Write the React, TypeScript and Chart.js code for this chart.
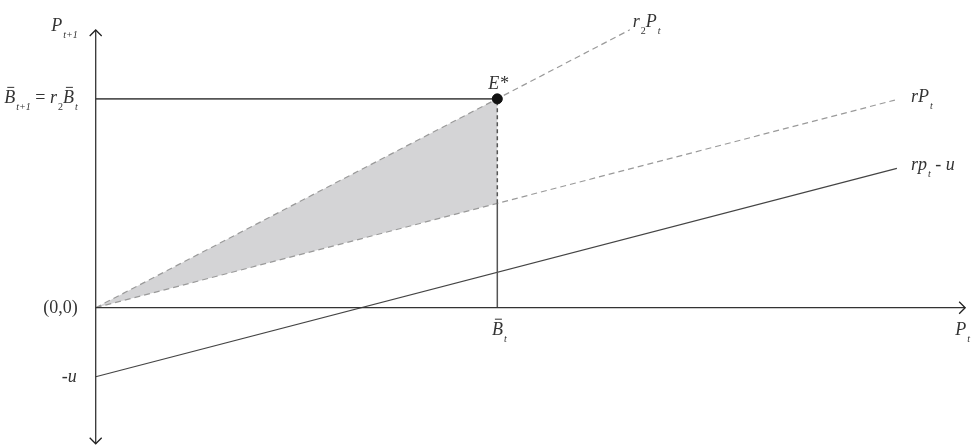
import { useEffect, useRef } from "react";
import { Chart, registerables } from "chart.js";

Chart.register(...registerables);

// ---- data (units: B̄t = 10) ----
const xAxisLine = [
  { x: 0, y: 0 },
  { x: 21.65, y: 0 },
];
const yAxisLine = [
  { x: 0, y: -3.39 },
  { x: 0, y: 6.915 },
];
const r2PtLine = [
  { x: 0, y: 0 },
  { x: 13.3, y: 6.92 },
];
const rPtLine = [
  { x: 0, y: 0 },
  { x: 19.9, y: 5.17 },
];
const rptMinusULine = [
  { x: 0, y: -1.72 },
  { x: 19.95, y: 3.47 },
];
const equilibriumLevel = [
  { x: 0, y: 5.2 },
  { x: 10, y: 5.2 },
];
const bBarSolid = [
  { x: 10, y: 0 },
  { x: 10, y: 2.6 },
];
const bBarDashed = [
  { x: 10, y: 2.6 },
  { x: 10, y: 5.2 },
];
const shadedRegion = [
  { x: 0, y: 0 },
  { x: 10, y: 5.2 },
  { x: 10, y: 2.6 },
  { x: 0, y: 0 },
];
const eStarPoint = [{ x: 10, y: 5.2 }];

// view window
const xRange = [-2.383, 21.82];
const yRange = [-3.469, 7.662];

type Part = { t: string; sub?: boolean; bar?: boolean; upright?: boolean };
type Label = { parts: Part[]; x: number; y: number; dx: number; dy: number; align: "left" | "right" | "center" };

const labels: Label[] = [
  { parts: [{ t: "P" }, { t: "t+1", sub: true }], x: 0, y: 6.915, dx: -18, dy: 1, align: "right" },
  {
    parts: [
      { t: "B", bar: true },
      { t: "t+1", sub: true },
      { t: " = ", upright: true },
      { t: "r" },
      { t: "2", sub: true, upright: true },
      { t: "B", bar: true },
      { t: "t", sub: true },
    ],
    x: 0,
    y: 5.2,
    dx: -18,
    dy: 4,
    align: "right",
  },
  { parts: [{ t: "(0,0)", upright: true }], x: 0, y: 0, dx: -18, dy: 5, align: "right" },
  { parts: [{ t: "-", upright: true }, { t: "u" }], x: 0, y: -1.72, dx: -19, dy: 5, align: "right" },
  { parts: [{ t: "B", bar: true }, { t: "t", sub: true }], x: 10, y: 0, dx: 2, dy: 27, align: "center" },
  { parts: [{ t: "P" }, { t: "t", sub: true }], x: 21.65, y: 0, dx: -10, dy: 27, align: "left" },
  { parts: [{ t: "E*" }], x: 10, y: 5.2, dx: 1, dy: -10, align: "center" },
  { parts: [{ t: "r" }, { t: "2", sub: true, upright: true }, { t: "P" }, { t: "t", sub: true }], x: 13.3, y: 6.92, dx: 3, dy: -3, align: "left" },
  { parts: [{ t: "rP" }, { t: "t", sub: true }], x: 19.9, y: 5.17, dx: 16, dy: 2, align: "left" },
  { parts: [{ t: "rp" }, { t: "t", sub: true }, { t: " - ", upright: true }, { t: "u" }], x: 19.95, y: 3.47, dx: 14, dy: 2, align: "left" },
];

const FAMILY = "'Liberation Serif', 'DejaVu Serif', serif";
const fontFor = (p: Part) =>
  `${p.upright ? "" : "italic "}${p.sub ? 10 : 18}px ${FAMILY}`;

function drawRich(ctx: CanvasRenderingContext2D, lab: Label, px: number, py: number) {
  const widths = lab.parts.map((p) => {
    ctx.font = fontFor(p);
    return ctx.measureText(p.t).width + (p.sub ? 1 : 0);
  });
  const total = widths.reduce((a, b) => a + b, 0);
  let cx = lab.align === "right" ? px - total : lab.align === "center" ? px - total / 2 : px;
  ctx.fillStyle = "#333";
  ctx.textBaseline = "alphabetic";
  ctx.textAlign = "left";
  lab.parts.forEach((p, i) => {
    ctx.font = fontFor(p);
    const y = py + (p.sub ? 7 : 0);
    ctx.fillText(p.t, cx + (p.sub ? 1 : 0), y);
    if (p.bar) {
      ctx.save();
      ctx.strokeStyle = "#333";
      ctx.lineWidth = 1;
      ctx.beginPath();
      ctx.moveTo(cx + 3, y - 15.5);
      ctx.lineTo(cx + widths[i] - 1, y - 15.5);
      ctx.stroke();
      ctx.restore();
    }
    cx += widths[i];
  });
}

const annotationPlugin = {
  id: "annotations",
  afterDraw(chart: any) {
    const { ctx, scales } = chart;
    const xs = scales.x;
    const ys = scales.y;
    ctx.save();
    // arrowheads
    ctx.strokeStyle = "#222";
    ctx.lineWidth = 1.3;
    const ox = xs.getPixelForValue(0);
    const oy = ys.getPixelForValue(0);
    const xEnd = xs.getPixelForValue(xAxisLine[1].x);
    const yTop = ys.getPixelForValue(yAxisLine[1].y);
    const yBot = ys.getPixelForValue(yAxisLine[0].y);
    const a = 6;
    ctx.beginPath();
    ctx.moveTo(xEnd - a, oy - a);
    ctx.lineTo(xEnd, oy);
    ctx.lineTo(xEnd - a, oy + a);
    ctx.moveTo(ox - a, yTop + a);
    ctx.lineTo(ox, yTop);
    ctx.lineTo(ox + a, yTop + a);
    ctx.moveTo(ox - a, yBot - a);
    ctx.lineTo(ox, yBot);
    ctx.lineTo(ox + a, yBot - a);
    ctx.stroke();
    labels.forEach((lab) => {
      drawRich(ctx, lab, xs.getPixelForValue(lab.x) + lab.dx, ys.getPixelForValue(lab.y) + lab.dy);
    });
    ctx.restore();
  },
};

export default function App() {
  const ref = useRef<HTMLCanvasElement | null>(null);
  useEffect(() => {
    document.body.style.margin = "0";
    const canvas = ref.current!;
    const seg = (data: any[], color: string, width: number, dash: number[] = [], order = 1) => ({
      type: "scatter" as const,
      data,
      showLine: true,
      borderColor: color,
      borderWidth: width,
      borderDash: dash,
      pointRadius: 0,
      fill: false,
      order,
    });
    const chart = new Chart(canvas, {
      type: "scatter",
      data: {
        datasets: [
          {
            type: "scatter",
            data: eStarPoint,
            pointRadius: 5,
            pointBackgroundColor: "#111",
            pointBorderColor: "#111",
            order: 0,
          } as any,
          seg(xAxisLine, "#333", 1.3),
          seg(yAxisLine, "#333", 1.3),
          seg(equilibriumLevel, "#555", 1.8),
          seg(bBarSolid, "#555", 1.5),
          seg(bBarDashed, "#555", 1.5, [4, 3]),
          seg(rptMinusULine, "#444", 1.2),
          seg(r2PtLine, "#9a9a9a", 1.2, [6, 4]),
          seg(rPtLine, "#9a9a9a", 1.2, [6, 4]),
          {
            type: "scatter",
            data: shadedRegion,
            showLine: true,
            borderWidth: 0,
            borderColor: "rgba(0,0,0,0)",
            backgroundColor: "#d4d4d6",
            pointRadius: 0,
            fill: "shape",
            order: 10,
          } as any,
        ],
      },
      options: {
        animation: false,
        responsive: false,
        maintainAspectRatio: false,
        layout: { padding: 0, autoPadding: false },
        plugins: { legend: { display: false }, tooltip: { enabled: false } },
        scales: {
          x: { type: "linear", min: xRange[0], max: xRange[1], display: false, bounds: "data" },
          y: { type: "linear", min: yRange[0], max: yRange[1], display: false, bounds: "data" },
        },
      },
      plugins: [annotationPlugin],
    });
    return () => chart.destroy();
  }, []);
  return (
    <div style={{ position: "fixed", left: 0, top: 0, width: 972, height: 447, background: "#fff" }}>
      <canvas ref={ref} width={972} height={447} />
    </div>
  );
}
